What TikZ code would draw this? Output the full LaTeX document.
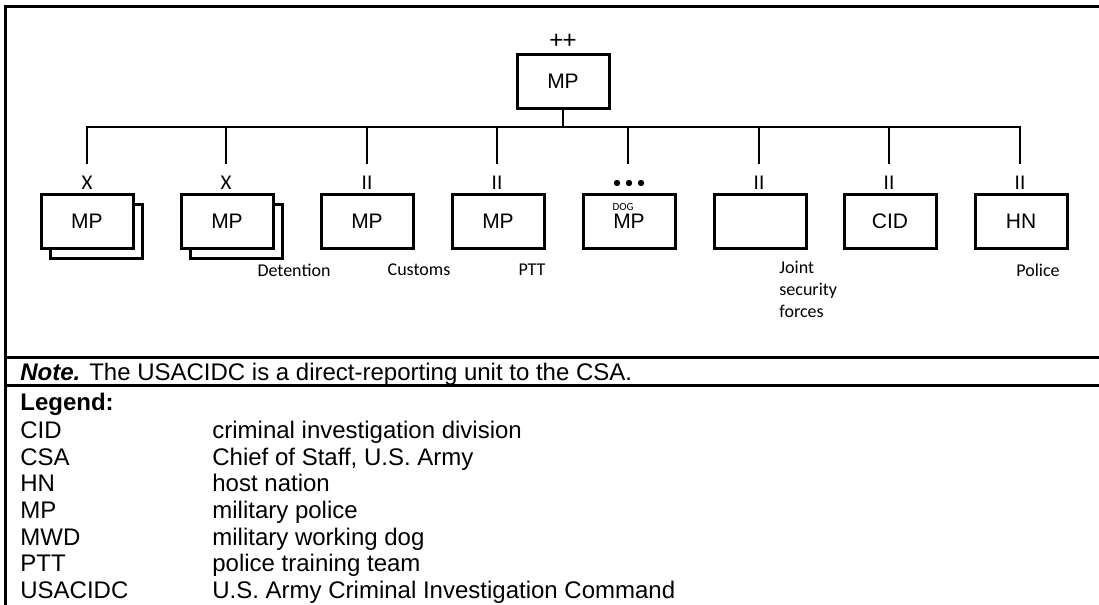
\documentclass[tikz,border=0pt]{standalone}
\usepackage{fontspec}
\setmainfont{Liberation Sans}
\newfontfamily\calibri{Carlito}
\usetikzlibrary{positioning, shadows}

\begin{document}
\begin{tikzpicture}[x=0.5pt, y=-0.5pt]
        \tikzset{
          unit/.style={draw, line width=1.5pt, fill=white, inner sep=0pt,
                       minimum width=46pt, minimum height=27pt,
                       font=\fontsize{10.5}{12}\selectfont},
          multi/.style={unit, copy shadow={shadow xshift=4.75pt,
                        shadow yshift=-4.75pt}},
          echelon/.style={inner sep=0pt, font=\calibri\fontsize{10.5}{12}\selectfont},
          tag/.style={inner sep=0pt, font=\calibri\fontsize{9}{11}\selectfont},
          link/.style={line width=1pt},
          txt/.style={inner sep=0pt, anchor=base west,
                      font=\fontsize{12}{14}\selectfont}
        }
        \useasboundingbox (0,0) rectangle (1099,605);

        % frame and note row
        \draw[line width=1.5pt] (1099,6) -- (5,6) -- (5,605);
        \draw[line width=1.5pt] (5,357) -- (1099,357) (5,385.5) -- (1099,385.5);

        \node[unit] (hq) at (563,81.5) {MP};
        \node[echelon, font=\calibri\fontsize{13}{15}\selectfont] (hqsize) at (563,41) {++};

        \node[multi] (bde1) at (87,221.5) {MP};
        \node[multi] (bde2) at (227,221.5) {MP};
        \node[unit] (bn1) at (367,221.5) {MP};
        \node[unit] (bn2) at (498,221.5) {MP};
        \node[unit] (mwd) at (629,221.5) {MP};
        \node[unit] (jsf) at (760,221.5) {};
        \node[unit] (cid) at (890,221.5) {CID};
        \node[unit] (hn) at (1021,221.5) {HN};
        \node[inner sep=0pt, font=\calibri\fontsize{5.5}{6}\selectfont]
              (dog) at (623,206.5) {DOG};

        \node[echelon] (s1) at (87,183) {X};
        \node[echelon] (s2) at (226,183) {X};
        \node[echelon] (s3) at (367,183) {II};
        \node[echelon] (s4) at (497,183) {II};
        \fill (617,183) circle (1.6pt) (629,183) circle (1.6pt)
              (641,183) circle (1.6pt);
        \node[echelon] (s6) at (759,183) {II};
        \node[echelon] (s7) at (889,183) {II};
        \node[echelon] (s8) at (1020,183) {II};

        \coordinate (bus) at (563,127);
        \coordinate (d1) at (87,164);
        \coordinate (d2) at (226,164);
        \coordinate (d3) at (367,164);
        \coordinate (d4) at (497,164);
        \coordinate (d5) at (628,164);
        \coordinate (d6) at (759,164);
        \coordinate (d7) at (889,164);
        \coordinate (d8) at (1020,164);
        \draw[link] (hq.south) -- (hq.south |- bus);
        \draw[link] (d1) -- (d1 |- bus) -- (d8 |- bus) -- (d8);
        \foreach \n in {2,...,7}
          \draw[link] (d\n) -- (d\n |- bus);

        \node[tag] (detlbl) at (294,270) {Detention};
        \node[tag] (cuslbl) at (419,270) {Customs};
        \node[tag] (pttlbl) at (532,270) {PTT};
        \node[tag, align=left, anchor=west] (jsflbl) at (779,289) {Joint\\security\\forces};
        \node[tag] (pollbl) at (1038,270) {Police};

        \node[txt] (note) at (20,380.5) {\textbf{\textit{Note.}} The USACIDC is a direct-reporting unit to the CSA.};

        \node[txt, font=\bfseries\fontsize{12}{14}\selectfont] (legend) at (20,410.5) {Legend:};
        \node[txt] (kcid) at (20,438.5) {CID};
        \node[txt] (vcid) at (212,438.5) {criminal investigation division};
        \node[txt] (kcsa) at (20,465.5) {CSA};
        \node[txt] (vcsa) at (212,465.5) {Chief of Staff, U.S. Army};
        \node[txt] (khn) at (20,491.5) {HN};
        \node[txt] (vhn) at (212,491.5) {host nation};
        \node[txt] (kmp) at (20,518.5) {MP};
        \node[txt] (vmp) at (212,518.5) {military police};
        \node[txt] (kmwd) at (20,545.5) {MWD};
        \node[txt] (vmwd) at (212,545.5) {military working dog};
        \node[txt] (kptt) at (20,571.5) {PTT};
        \node[txt] (vptt) at (212,571.5) {police training team};
        \node[txt] (kusa) at (20,598.5) {USACIDC};
        \node[txt] (vusa) at (212,598.5) {U.S. Army Criminal Investigation Command};
      \end{tikzpicture}
\end{document}
